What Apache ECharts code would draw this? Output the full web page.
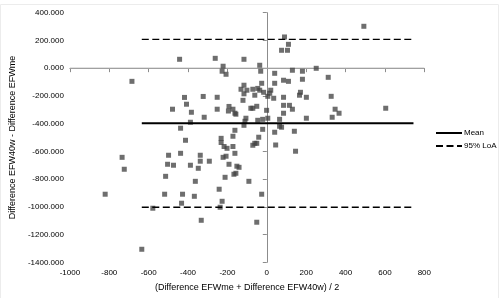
<!DOCTYPE html>
<html>
<head>
<meta charset="utf-8">
<script src="https://cdn.jsdelivr.net/npm/echarts@6/dist/echarts.min.js"></script>
<style>
  html, body { margin: 0; padding: 0; background: #fff; }
  #chart { width: 500px; height: 298px; }
</style>
</head>
<body>
<div id="chart"></div>
<script>
// x: (Difference EFWme + Difference EFW40w) / 2
var avgDiff = [
    -821, -735, -724, -685, -635, -579, -514, -519, -504, -499,
    -479, -474, -443, -438, -438, -428, -433, -418, -413, -408,
    -388, -383, -388, -368, -363, -348, -338, -338, -333, -323,
    -318, -292, -262, -252, -252, -242, -237, -232, -232, -227,
    -227, -222, -222, -217, -212, -207, -207, -202, -195, -192,
    -192, -172, -172, -172, -167, -162, -162, -162, -157, -157,
    -152, -141, -131, -121, -116, -116, -116, -116, -111, -106,
    -101, -91, -81, -71, -71, -71, -61, -61, -51, -51,
    -51, -46, -46, -41, -36, -36, -31, -26, -26, -21,
    -21, -16, -1, 5, 5, 15, 20, 35, 40, 40,
    40, 45, 65, 65, 75, 75, 85, 85, 85, 85,
    90, 105, 110, 110, 115, 130, 130, 140, 146, 166,
    171, 181, 181, 201, 201, 251, 312, 327, 332, 347,
    367, 493, 604
];
// y: Difference EFW40w - Difference EFWme
var diffVal = [
    -909, -643, -729, -95, -1306, -1010, -780, -909, -693, -628,
    -296, -700, 64, -433, -614, -909, -974, -211, -520, -260,
    -390, -318, -700, -924, -816, -722, -628, -671, -1097, -204,
    -354, -671, 71, -210, -296, -873, -1003, -506, -536, -960,
    -22, 14, -643, -565, -787, -44, -635, -578, -309, -276,
    -693, -296, -491, -565, -765, -325, -448, -614, -332, -758,
    -707, -715, -152, -232, 64, -123, -185, -412, -383, -361,
    -159, -816, -289, -289, -152, -556, -195, -542, -275, -542,
    -1111, -146, -376, -498, 21, -159, -22, -109, -909, -369,
    -441, -174, -304, -203, -361, -181, -159, -217, -37, -109,
    -462, -554, -369, -419, -426, 129, -87, -210, -268, -325,
    225, 129, 172, -95, -268, -15, -296, -455, -599, -195,
    -174, -22, -80, -210, -361, -1, -66, -203, -354, -296,
    -325, 302, -289
];

var meanValue = -398;
var loaUpper = 207;
var loaLower = -1003;
var lineRange = [-635, 745];
var xTicks = [-1000, 800, 200];   // min, max, interval
var yTicks = [-1400, 400, 200];

var points = avgDiff.map(function (x, i) { return [x, diffVal[i]]; });

function hLine(y) {
    return [[lineRange[0], y], [lineRange[1], y]];
}

var chart = echarts.init(document.getElementById('chart'), null, { renderer: 'canvas' });
var font = 'Liberation Sans, Arial, sans-serif';
var dash = { type: [7, 3.5], width: 1.3, color: '#000' };

chart.setOption({
    animation: false,
    textStyle: { fontFamily: font },
    graphic: [{
        type: 'rect',
        shape: { x: 0.5, y: 4.5, width: 498, height: 300 },
        style: { fill: 'none', stroke: '#ececec', lineWidth: 1 },
        silent: true
    }],
    grid: { left: 66.7, right: 75.7, top: 12.7, bottom: 35.7 },
    legend: {
        data: ['Mean', '95% LoA'],
        orient: 'vertical',
        left: 430,
        top: 124,
        itemWidth: 26,
        itemHeight: 10,
        itemGap: 5,
        itemStyle: { opacity: 0 },
        textStyle: { fontSize: 8, color: '#000', fontFamily: font, padding: [0, 0, 0, -3] }
    },
    xAxis: {
        type: 'value',
        min: xTicks[0], max: xTicks[1], interval: xTicks[2],
        name: '(Difference EFWme + Difference EFW40w) / 2',
        nameLocation: 'middle',
        nameGap: 21,
        nameTextStyle: { fontSize: 9, color: '#000' },
        axisLine: { lineStyle: { color: '#8c8c8c' } },
        axisTick: { length: 4, lineStyle: { color: '#8c8c8c' } },
        axisLabel: {
            fontSize: 8, color: '#000', margin: 6,
            formatter: function (v) { return String(v); }
        },
        splitLine: { show: false }
    },
    yAxis: {
        type: 'value',
        min: yTicks[0], max: yTicks[1], interval: yTicks[2],
        name: 'Difference EFW40w - Difference EFWme',
        nameLocation: 'middle',
        nameGap: 49,
        nameTextStyle: { fontSize: 9, color: '#000' },
        axisLine: { show: true, lineStyle: { color: '#8c8c8c' } },
        axisTick: { show: true, length: 4, lineStyle: { color: '#8c8c8c' } },
        axisLabel: {
            fontSize: 8, color: '#000', margin: 6,
            formatter: function (v) { return v.toFixed(3); }
        },
        splitLine: { show: false }
    },
    series: [{
        name: 'zero',
        type: 'line',
        data: [[xTicks[0], 0], [xTicks[1], 0]],
        symbol: 'none',
        lineStyle: { color: '#ababab', width: 1 },
        silent: true,
        z: 1
    }, {
        name: 'points',
        type: 'scatter',
        data: points,
        symbol: 'rect',
        symbolSize: 5,
        itemStyle: { color: '#434343', opacity: 0.77 },
        z: 2
    }, {
        name: 'Mean',
        type: 'line',
        data: hLine(meanValue),
        symbol: 'none',
        color: '#000',
        lineStyle: { color: '#000', width: 2 },
        z: 3
    }, {
        name: '95% LoA',
        type: 'line',
        data: hLine(loaUpper),
        symbol: 'none',
        color: '#000',
        lineStyle: dash,
        z: 3
    }, {
        name: '95% LoA',
        type: 'line',
        data: hLine(loaLower),
        symbol: 'none',
        color: '#000',
        lineStyle: dash,
        z: 3
    }]
});
</script>
</body>
</html>
